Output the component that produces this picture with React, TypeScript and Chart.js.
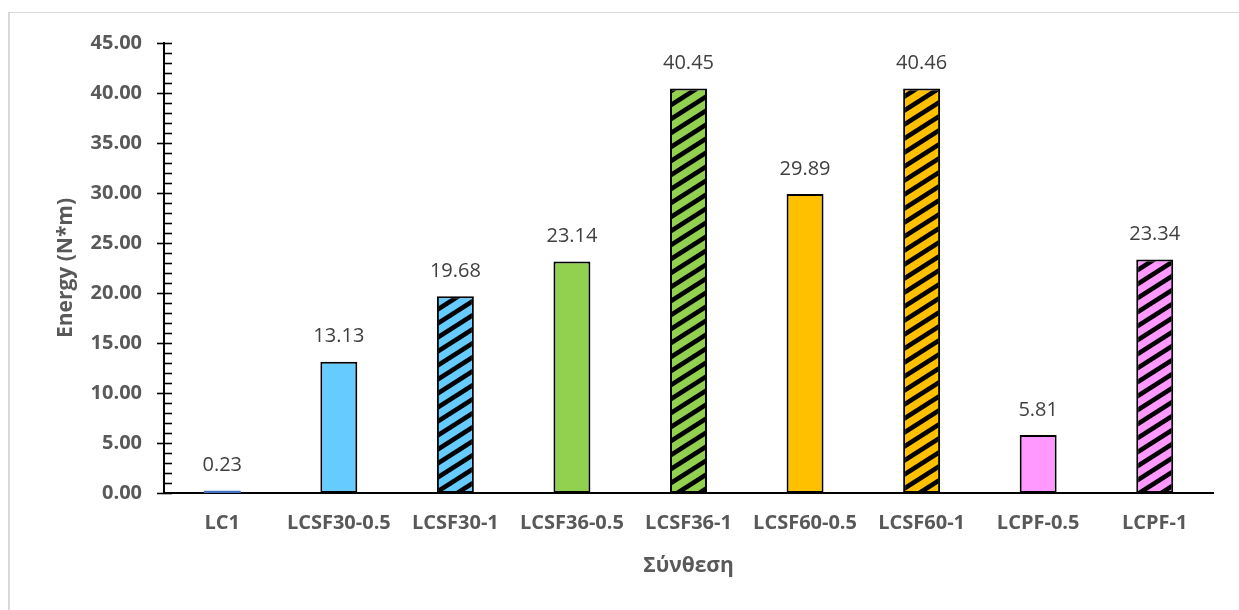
import React, { useEffect, useRef } from "react";
import { Chart, registerables } from "chart.js";

Chart.register(...registerables);

// Mixture designations and absorbed energy (N*m)
const categories = [
  "LC1",
  "LCSF30-0.5",
  "LCSF30-1",
  "LCSF36-0.5",
  "LCSF36-1",
  "LCSF60-0.5",
  "LCSF60-1",
  "LCPF-0.5",
  "LCPF-1",
];
const energy = [0.23, 13.13, 19.68, 23.14, 40.45, 29.89, 40.46, 5.81, 23.34];
const fillColors = [
  "#4472C4",
  "#66CCFF",
  "#66CCFF",
  "#92D050",
  "#92D050",
  "#FFC000",
  "#FFC000",
  "#FF99FF",
  "#FF99FF",
];
const hatched = [false, false, true, false, true, false, true, false, true];

const yMin = 0;
const yMax = 45;
const yStep = 5;
const yMinorStep = 1;

const FONT = '"Open Sans", "Noto Sans", sans-serif';
const TEXT = "#595959";

// Diagonal "/" stripe pattern on a coloured ground
function makeHatch(color: string): CanvasPattern | string {
  const W = 22;
  const H = 14;
  const t = 5.5;
  const c = document.createElement("canvas");
  c.width = W;
  c.height = H;
  const g = c.getContext("2d");
  if (!g) return color;
  g.fillStyle = color;
  g.fillRect(0, 0, W, H);
  g.fillStyle = "#000000";
  for (const o of [-H, 0, H]) {
    g.beginPath();
    g.moveTo(0, H + o - t / 2);
    g.lineTo(W, o - t / 2);
    g.lineTo(W, o + t / 2);
    g.lineTo(0, H + o + t / 2);
    g.closePath();
    g.fill();
  }
  return g.createPattern(c, "repeat") || color;
}

// Crossing major ticks and inside minor ticks on the value axis
const axisTicksPlugin = {
  id: "axisTicks",
  afterDraw(chart: any) {
    const ys = chart.scales.y;
    const ctx = chart.ctx;
    const x0 = chart.chartArea.left;
    ctx.save();
    ctx.strokeStyle = "#000000";
    ctx.lineWidth = 1.6;
    for (let v = yMin; v <= yMax + 1e-9; v += yMinorStep) {
      const y = Math.round(ys.getPixelForValue(v)) + 0.5;
      const major = Math.abs(v % yStep) < 1e-9;
      ctx.beginPath();
      ctx.moveTo(major ? x0 - 7 : x0, y);
      ctx.lineTo(x0 + 8, y);
      ctx.stroke();
    }
    ctx.restore();
  },
};

// Value labels above each bar
const valueLabelPlugin = {
  id: "valueLabels",
  afterDatasetsDraw(chart: any) {
    const meta = chart.getDatasetMeta(0);
    const ctx = chart.ctx;
    ctx.save();
    ctx.font = `20px ${FONT}`;
    ctx.fillStyle = "#404040";
    ctx.textAlign = "center";
    ctx.textBaseline = "middle";
    meta.data.forEach((el: any, i: number) => {
      ctx.fillText(energy[i].toFixed(2), el.x, el.y - 25);
    });
    ctx.restore();
  },
};

export default function App() {
  const canvasRef = useRef<HTMLCanvasElement | null>(null);

  useEffect(() => {
    const canvas = canvasRef.current;
    if (!canvas) return;

    const backgrounds = fillColors.map((c, i) => (hatched[i] ? makeHatch(c) : c));
    const borders = fillColors.map((c, i) => (i === 0 ? c : "#000000"));
    const borderWidths = fillColors.map((_, i) => (i === 0 ? 0 : 2));

    const chart = new Chart(canvas, {
      type: "bar",
      data: {
        labels: categories,
        datasets: [
          {
            data: energy,
            backgroundColor: backgrounds as any,
            borderColor: borders,
            borderWidth: borderWidths,
            borderSkipped: false,
            barPercentage: 0.317,
            categoryPercentage: 1,
          },
        ],
      },
      options: {
        responsive: false,
        animation: false,
        devicePixelRatio: 1,
        layout: { padding: { left: 20, top: 43, right: 26, bottom: 0 } },
        plugins: {
          legend: { display: false },
          tooltip: { enabled: false },
        },
        scales: {
          x: {
            afterFit: (s: any) => {
              s.height = 117;
            },
            grid: { display: false, drawTicks: false },
            border: { display: true, color: "#000000", width: 2 },
            ticks: {
              padding: 18,
              color: TEXT,
              font: { family: FONT, weight: "bold", size: 20 },
              maxRotation: 0,
              autoSkip: false,
            },
            title: {
              display: true,
              text: "Σύνθεση",
              color: TEXT,
              font: { family: FONT, weight: "bold", size: 21 },
              padding: { top: 0, bottom: 31 },
            },
          },
          y: {
            min: yMin,
            max: yMax,
            afterFit: (s: any) => {
              s.width = 144;
            },
            grid: { display: false, drawTicks: false },
            border: { display: true, color: "#000000", width: 2 },
            ticks: {
              stepSize: yStep,
              padding: 22,
              color: TEXT,
              font: { family: FONT, weight: "bold", size: 20 },
              callback: (v: any) => Number(v).toFixed(2),
            },
            title: {
              display: true,
              text: "Energy (N*m)",
              color: TEXT,
              font: { family: FONT, weight: "bold", size: 21 },
              padding: { top: 33, bottom: 0 },
            },
          },
        },
      },
      plugins: [axisTicksPlugin, valueLabelPlugin],
    });

    if ((document as any).fonts && (document as any).fonts.ready) {
      (document as any).fonts.ready.then(() => chart.update());
    }

    return () => chart.destroy();
  }, []);

  return (
    <div
      style={{
        position: "absolute",
        left: 0,
        top: 0,
        width: 1239,
        height: 610,
        overflow: "hidden",
        background: "#ffffff",
      }}
    >
      <div
        style={{
          position: "absolute",
          left: 8,
          top: 12,
          width: 1300,
          height: 700,
          borderLeft: "2px solid #d9d9d9",
          borderTop: "1px solid #d9d9d9",
        }}
      />
      <canvas
        ref={canvasRef}
        width={1239}
        height={610}
        style={{ position: "absolute", left: 0, top: 0 }}
      />
    </div>
  );
}
